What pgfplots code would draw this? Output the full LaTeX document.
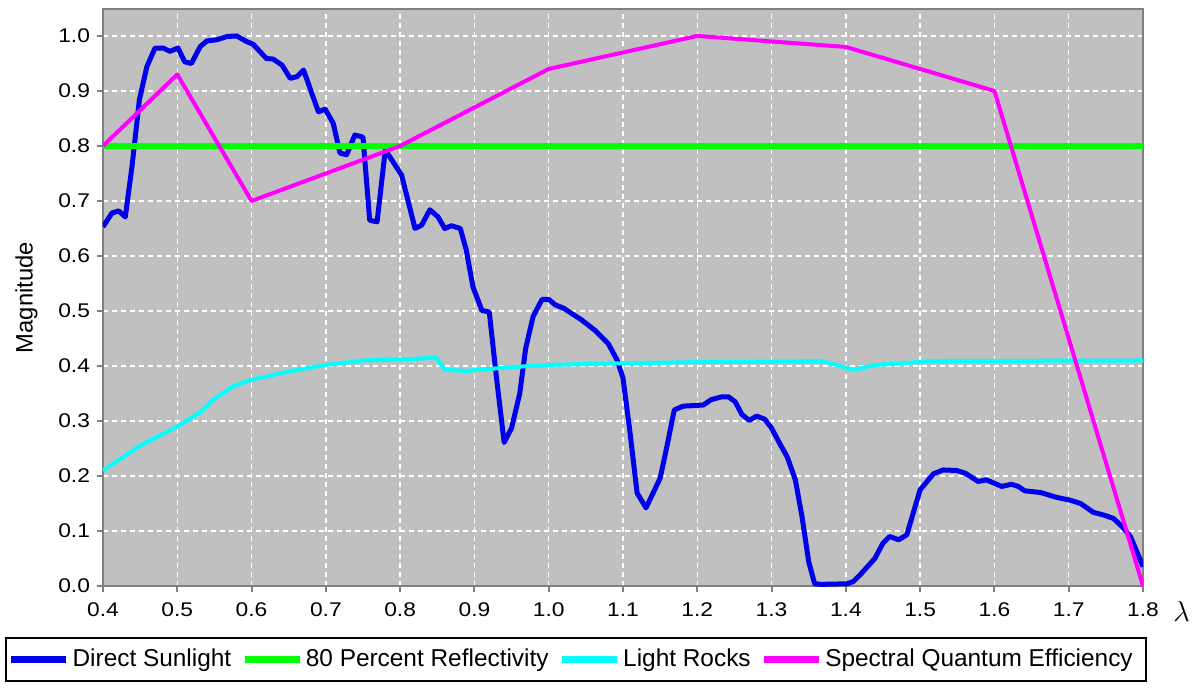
\documentclass[border=0pt]{standalone}
\usepackage{fontspec}
\setmainfont{Liberation Sans}
\newfontfamily\tickfont[FakeStretch=1.15]{Liberation Sans}
\usepackage{pgfplots}
\pgfplotsset{compat=1.18}
\definecolor{bgGray}{RGB}{192,192,192}
\definecolor{axGray}{RGB}{128,128,128}
\definecolor{sunBlue}{RGB}{0,0,235}
\definecolor{refGreen}{RGB}{0,255,0}
\definecolor{rockCyan}{RGB}{0,255,255}
\definecolor{sqeMagenta}{RGB}{255,0,255}
\begin{document}
\begin{tikzpicture}
\path[use as bounding box] (-51.5pt,-50.5pt) rectangle (549pt,293pt);
\begin{axis}[
  at={(0,0)}, anchor=south west,
  scale only axis, width=520pt, height=288.5pt,
  xmin=0.4, xmax=1.8, ymin=0, ymax=1.049,
  axis background/.style={fill=bgGray},
  axis line style={draw=axGray, line width=1pt},
  xtick={0.4,0.5,0.6,0.7,0.8,0.9,1.0,1.1,1.2,1.3,1.4,1.5,1.6,1.7,1.8},
  ytick={0,0.1,0.2,0.3,0.4,0.5,0.6,0.7,0.8,0.9,1.0},
  tick pos=left,
  tick align=outside, major tick length=3pt,
  tick style={draw=axGray, line width=1pt},
  /pgf/number format/.cd, fixed, fixed zerofill, precision=1, assume math mode=true, /pgfplots/.cd,
  tick label style={font=\tickfont\fontsize{9.9}{12}\selectfont, black},
  xticklabel style={yshift=-2pt},
  grid=major,
  major grid style={draw=white, dash pattern=on 2.5pt off 2pt, line width=0.75pt},
  ylabel={Magnitude},
  ylabel style={at={(rel axis cs:0,0.5)}, anchor=center, rotate=0, yshift=38.25pt, font=\fontsize{11.9}{14}\selectfont},
  xlabel={$\lambda$},
  xlabel style={at={(rel axis cs:1,0)}, anchor=center, xshift=19.25pt, yshift=-12.5pt, font=\fontsize{13.5}{16}\selectfont},
  legend columns=4,
  legend style={at={(0,0)}, anchor=north west, xshift=-49pt, yshift=-25.5pt,
    draw=black, line width=1pt, fill=white,
    font=\fontsize{12.2}{14}\selectfont, inner xsep=1pt, inner ysep=5pt,
    nodes={inner xsep=0pt, inner ysep=0pt, text height=9pt, text depth=2.5pt},
    /tikz/every odd column/.append style={column sep=1.5pt},
    /tikz/every even column/.append style={column sep=5pt}},
  legend image code/.code={\draw[#1, line width=3.3pt] (0pt,0pt) -- (27.5pt,0pt);},
]
\addplot[sunBlue, line width=2.5pt, line join=round] coordinates {
(0.400,0.653) (0.412,0.678) (0.421,0.682) (0.430,0.671) (0.439,0.762)
(0.449,0.884) (0.459,0.944) (0.470,0.978) (0.481,0.978) (0.490,0.972)
(0.501,0.978) (0.510,0.953) (0.519,0.950) (0.531,0.981) (0.540,0.991)
(0.553,0.993) (0.567,0.999) (0.580,1.000) (0.593,0.990) (0.602,0.985)
(0.620,0.959) (0.629,0.958) (0.641,0.947) (0.652,0.923) (0.661,0.926)
(0.670,0.938) (0.690,0.862) (0.699,0.867) (0.710,0.841) (0.719,0.787)
(0.728,0.784) (0.739,0.820) (0.750,0.816) (0.759,0.665) (0.769,0.662)
(0.780,0.793) (0.802,0.747) (0.820,0.650) (0.829,0.656) (0.840,0.684)
(0.851,0.671) (0.860,0.650) (0.869,0.655) (0.881,0.650) (0.889,0.611)
(0.898,0.544) (0.910,0.501) (0.920,0.498) (0.930,0.375) (0.940,0.261)
(0.950,0.287) (0.961,0.350) (0.969,0.432) (0.979,0.490) (0.991,0.521)
(1.000,0.521) (1.009,0.511) (1.020,0.505) (1.044,0.484) (1.062,0.465)
(1.080,0.441) (1.092,0.411) (1.100,0.378) (1.109,0.284) (1.119,0.169)
(1.131,0.142) (1.150,0.196) (1.159,0.253) (1.169,0.320) (1.181,0.327)
(1.208,0.329) (1.219,0.339) (1.233,0.344) (1.242,0.344) (1.251,0.335)
(1.260,0.312) (1.270,0.301) (1.280,0.309) (1.291,0.303) (1.300,0.287)
(1.311,0.259) (1.321,0.235) (1.332,0.193) (1.341,0.126) (1.350,0.044)
(1.358,0.004) (1.367,0.003) (1.401,0.004) (1.410,0.008) (1.419,0.020)
(1.439,0.050) (1.450,0.078) (1.459,0.090) (1.471,0.084) (1.482,0.093)
(1.500,0.175) (1.518,0.204) (1.531,0.211) (1.549,0.210) (1.561,0.205)
(1.578,0.190) (1.589,0.193) (1.610,0.181) (1.623,0.185) (1.632,0.181)
(1.641,0.173) (1.662,0.170) (1.684,0.161) (1.702,0.156) (1.716,0.150)
(1.733,0.134) (1.747,0.129) (1.760,0.123) (1.772,0.108) (1.783,0.090)
(1.791,0.065) (1.800,0.035)
};
\addlegendentry{Direct Sunlight}
\addplot[refGreen, line width=3.2pt] coordinates {(0.4,0.8) (1.8,0.8)};
\addlegendentry{80 Percent Reflectivity}
\addplot[rockCyan, line width=2pt, line join=round] coordinates {
(0.40,0.210) (0.45,0.255) (0.50,0.290) (0.53,0.315) (0.55,0.340)
(0.575,0.363) (0.60,0.375) (0.65,0.390) (0.70,0.402) (0.75,0.410)
(0.80,0.412) (0.849,0.415) (0.860,0.393) (0.889,0.391) (0.95,0.398)
(1.00,0.402) (1.10,0.405) (1.20,0.407) (1.30,0.408) (1.369,0.409)
(1.410,0.393) (1.441,0.402) (1.517,0.409) (1.80,0.410)
};
\addlegendentry{Light Rocks}
\addplot[sqeMagenta, line width=2pt, line join=round] coordinates {
(0.4,0.80) (0.5,0.93) (0.6,0.70) (0.8,0.80) (1.0,0.94) (1.2,1.00)
(1.4,0.98) (1.6,0.90) (1.8,0.00)
};
\addlegendentry{Spectral Quantum Efficiency\rule{5.5pt}{0pt}}
\end{axis}
\end{tikzpicture}
\end{document}
